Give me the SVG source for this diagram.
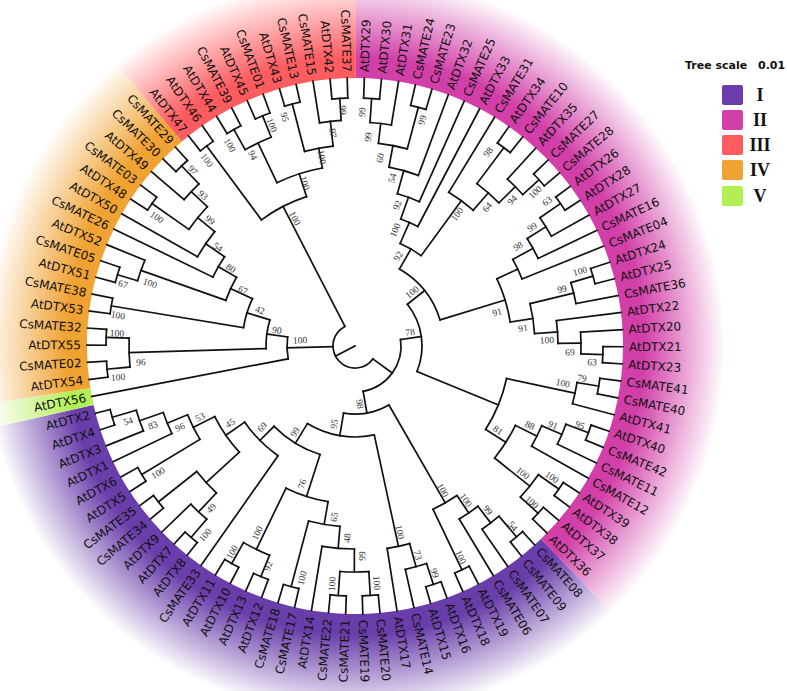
<svg xmlns="http://www.w3.org/2000/svg" width="787" height="691" viewBox="0 0 787 691">
<defs>
<radialGradient id="gI" gradientUnits="userSpaceOnUse" cx="0" cy="0" r="370"><stop offset="0" stop-color="#6a3eaa"/><stop offset="0.78" stop-color="#6a3eaa"/><stop offset="1" stop-color="#fff"/></radialGradient>
<radialGradient id="gII" gradientUnits="userSpaceOnUse" cx="0" cy="0" r="370"><stop offset="0" stop-color="#d23fa8"/><stop offset="0.78" stop-color="#d23fa8"/><stop offset="1" stop-color="#fff"/></radialGradient>
<radialGradient id="gIII" gradientUnits="userSpaceOnUse" cx="0" cy="0" r="370"><stop offset="0" stop-color="#ff5c60"/><stop offset="0.78" stop-color="#ff5c60"/><stop offset="1" stop-color="#fff"/></radialGradient>
<radialGradient id="gIV" gradientUnits="userSpaceOnUse" cx="0" cy="0" r="370"><stop offset="0" stop-color="#f0a232"/><stop offset="0.78" stop-color="#f0a232"/><stop offset="1" stop-color="#fff"/></radialGradient>
<radialGradient id="gV" gradientUnits="userSpaceOnUse" cx="0" cy="0" r="370"><stop offset="0" stop-color="#b2ef52"/><stop offset="0.78" stop-color="#b2ef52"/><stop offset="1" stop-color="#fff"/></radialGradient>
</defs>
<style>
.c{fill:none;stroke:#111;stroke-width:1.7;stroke-linecap:square}
.l{font-family:"DejaVu Sans",sans-serif;font-size:12px;fill:#111}
.r text{text-anchor:end}
.b{font-family:"Liberation Serif",serif;font-size:9.5px;fill:#333;text-anchor:middle}
.ts{font-family:"DejaVu Sans",sans-serif;font-size:11px;font-weight:bold;fill:#111}
.rn{font-family:"Liberation Serif",serif;font-size:18px;font-weight:bold;fill:#111;text-anchor:middle}
</style>
<rect width="787" height="691" fill="#fff"/>
<g transform="translate(355,346)">
<g id="bands" fill="none" stroke-width="102">
<circle r="319" pathLength="360" stroke="url(#gII)" stroke-dasharray="135.92 360" transform="rotate(270.16)"/>
<circle r="319" pathLength="360" stroke="url(#gI)" stroke-dasharray="121.23 360" transform="rotate(406.08)"/>
<circle r="319" pathLength="360" stroke="url(#gV)" stroke-dasharray="3.67 360" transform="rotate(527.31)"/>
<circle r="319" pathLength="360" stroke="url(#gIV)" stroke-dasharray="58.78 360" transform="rotate(530.98)"/>
<circle r="319" pathLength="360" stroke="url(#gIII)" stroke-dasharray="40.41 360" transform="rotate(589.76)"/>
</g>
<g id="connectors" class="c">
<line x1="0" x2="22" transform="rotate(512.34)"/>
<circle r="22" pathLength="360" stroke-dasharray="206.85 360" transform="rotate(395.88)"/>
<line x1="22" x2="46" transform="rotate(395.88)"/>
<circle r="46" pathLength="360" stroke-dasharray="87.98 360" transform="rotate(351.89)"/>
<line x1="22" x2="68" transform="rotate(538.42)"/>
<circle r="68" pathLength="360" stroke-dasharray="18.55 360" transform="rotate(529.15)"/>
<line x1="22" x2="157" transform="rotate(602.73)"/>
<circle r="157" pathLength="360" stroke-dasharray="18.60 360" transform="rotate(593.43)"/>
<line x1="46" x2="67" transform="rotate(351.89)"/>
<circle r="67" pathLength="360" stroke-dasharray="60.85 360" transform="rotate(321.47)"/>
<line x1="46" x2="68" transform="rotate(439.87)"/>
<circle r="68" pathLength="360" stroke-dasharray="39.56 360" transform="rotate(420.09)"/>
<line x1="67" x2="89" transform="rotate(321.47)"/>
<circle r="89" pathLength="360" stroke-dasharray="42.96 360" transform="rotate(299.98)"/>
<line x1="67" x2="155" transform="rotate(382.32)"/>
<circle r="155" pathLength="360" stroke-dasharray="20.43 360" transform="rotate(372.10)"/>
<line x1="89" x2="112" transform="rotate(299.98)"/>
<circle r="112" pathLength="360" stroke-dasharray="12.45 360" transform="rotate(293.76)"/>
<line x1="89" x2="157" transform="rotate(342.95)"/>
<circle r="157" pathLength="360" stroke-dasharray="16.53 360" transform="rotate(334.68)"/>
<line x1="112" x2="135" transform="rotate(293.76)"/>
<circle r="135" pathLength="360" stroke-dasharray="7.92 360" transform="rotate(289.79)"/>
<line x1="135" x2="268" transform="rotate(297.72)"/>
<line x1="135" x2="158" transform="rotate(289.79)"/>
<circle r="158" pathLength="360" stroke-dasharray="8.49 360" transform="rotate(285.55)"/>
<line x1="158" x2="268" transform="rotate(294.04)"/>
<line x1="158" x2="182" transform="rotate(285.55)"/>
<circle r="182" pathLength="360" stroke-dasharray="9.64 360" transform="rotate(280.73)"/>
<line x1="182" x2="268" transform="rotate(290.37)"/>
<line x1="182" x2="204" transform="rotate(280.73)"/>
<circle r="204" pathLength="360" stroke-dasharray="8.27 360" transform="rotate(276.59)"/>
<line x1="204" x2="224" transform="rotate(276.59)"/>
<circle r="224" pathLength="360" stroke-dasharray="5.51 360" transform="rotate(273.84)"/>
<line x1="224" x2="268" transform="rotate(279.35)"/>
<line x1="224" x2="248" transform="rotate(273.84)"/>
<circle r="248" pathLength="360" stroke-dasharray="3.67 360" transform="rotate(272)"/>
<line x1="248" x2="268" transform="rotate(272)"/>
<line x1="248" x2="268" transform="rotate(275.67)"/>
<line x1="204" x2="247" transform="rotate(284.86)"/>
<circle r="247" pathLength="360" stroke-dasharray="3.67 360" transform="rotate(283.02)"/>
<line x1="247" x2="268" transform="rotate(283.02)"/>
<line x1="247" x2="268" transform="rotate(286.69)"/>
<line x1="112" x2="180" transform="rotate(306.21)"/>
<circle r="180" pathLength="360" stroke-dasharray="9.64 360" transform="rotate(301.39)"/>
<line x1="180" x2="268" transform="rotate(301.39)"/>
<line x1="180" x2="203" transform="rotate(311.03)"/>
<circle r="203" pathLength="360" stroke-dasharray="8.27 360" transform="rotate(306.90)"/>
<line x1="203" x2="248" transform="rotate(306.90)"/>
<circle r="248" pathLength="360" stroke-dasharray="3.67 360" transform="rotate(305.06)"/>
<line x1="248" x2="268" transform="rotate(305.06)"/>
<line x1="248" x2="268" transform="rotate(308.74)"/>
<line x1="203" x2="226" transform="rotate(315.16)"/>
<circle r="226" pathLength="360" stroke-dasharray="5.51 360" transform="rotate(312.41)"/>
<line x1="226" x2="268" transform="rotate(312.41)"/>
<line x1="226" x2="248" transform="rotate(317.92)"/>
<circle r="248" pathLength="360" stroke-dasharray="3.67 360" transform="rotate(316.08)"/>
<line x1="248" x2="268" transform="rotate(316.08)"/>
<line x1="248" x2="268" transform="rotate(319.76)"/>
<line x1="157" x2="180" transform="rotate(334.68)"/>
<circle r="180" pathLength="360" stroke-dasharray="6.89 360" transform="rotate(331.24)"/>
<line x1="180" x2="268" transform="rotate(338.12)"/>
<line x1="180" x2="203" transform="rotate(331.24)"/>
<circle r="203" pathLength="360" stroke-dasharray="6.43 360" transform="rotate(328.02)"/>
<line x1="203" x2="268" transform="rotate(334.45)"/>
<line x1="203" x2="225" transform="rotate(328.02)"/>
<circle r="225" pathLength="360" stroke-dasharray="5.51 360" transform="rotate(325.27)"/>
<line x1="225" x2="268" transform="rotate(330.78)"/>
<line x1="225" x2="250" transform="rotate(325.27)"/>
<circle r="250" pathLength="360" stroke-dasharray="3.67 360" transform="rotate(323.43)"/>
<line x1="250" x2="268" transform="rotate(323.43)"/>
<line x1="250" x2="268" transform="rotate(327.10)"/>
<line x1="157" x2="180" transform="rotate(351.21)"/>
<circle r="180" pathLength="360" stroke-dasharray="9.64 360" transform="rotate(346.39)"/>
<line x1="180" x2="225" transform="rotate(346.39)"/>
<circle r="225" pathLength="360" stroke-dasharray="5.51 360" transform="rotate(343.63)"/>
<line x1="225" x2="268" transform="rotate(349.14)"/>
<line x1="225" x2="248" transform="rotate(343.63)"/>
<circle r="248" pathLength="360" stroke-dasharray="3.67 360" transform="rotate(341.80)"/>
<line x1="248" x2="268" transform="rotate(341.80)"/>
<line x1="248" x2="268" transform="rotate(345.47)"/>
<line x1="180" x2="203" transform="rotate(356.03)"/>
<circle r="203" pathLength="360" stroke-dasharray="6.43 360" transform="rotate(352.82)"/>
<line x1="203" x2="268" transform="rotate(352.82)"/>
<line x1="203" x2="226" transform="rotate(359.25)"/>
<circle r="226" pathLength="360" stroke-dasharray="5.51 360" transform="rotate(356.49)"/>
<line x1="226" x2="268" transform="rotate(356.49)"/>
<line x1="226" x2="248" transform="rotate(362.00)"/>
<circle r="248" pathLength="360" stroke-dasharray="3.67 360" transform="rotate(360.16)"/>
<line x1="248" x2="268" transform="rotate(360.16)"/>
<line x1="248" x2="268" transform="rotate(363.84)"/>
<line x1="155" x2="225" transform="rotate(372.10)"/>
<circle r="225" pathLength="360" stroke-dasharray="5.51 360" transform="rotate(369.35)"/>
<line x1="225" x2="268" transform="rotate(374.86)"/>
<line x1="225" x2="247" transform="rotate(369.35)"/>
<circle r="247" pathLength="360" stroke-dasharray="3.67 360" transform="rotate(367.51)"/>
<line x1="247" x2="268" transform="rotate(367.51)"/>
<line x1="247" x2="268" transform="rotate(371.19)"/>
<line x1="155" x2="179" transform="rotate(392.54)"/>
<circle r="179" pathLength="360" stroke-dasharray="12.40 360" transform="rotate(386.34)"/>
<line x1="179" x2="203" transform="rotate(386.34)"/>
<circle r="203" pathLength="360" stroke-dasharray="6.43 360" transform="rotate(383.12)"/>
<line x1="203" x2="268" transform="rotate(389.55)"/>
<line x1="203" x2="225" transform="rotate(383.12)"/>
<circle r="225" pathLength="360" stroke-dasharray="5.51 360" transform="rotate(380.37)"/>
<line x1="225" x2="268" transform="rotate(385.88)"/>
<line x1="225" x2="249" transform="rotate(380.37)"/>
<circle r="249" pathLength="360" stroke-dasharray="3.67 360" transform="rotate(378.53)"/>
<line x1="249" x2="268" transform="rotate(378.53)"/>
<line x1="249" x2="268" transform="rotate(382.21)"/>
<line x1="179" x2="224" transform="rotate(398.74)"/>
<circle r="224" pathLength="360" stroke-dasharray="7.35 360" transform="rotate(395.06)"/>
<line x1="224" x2="249" transform="rotate(395.06)"/>
<circle r="249" pathLength="360" stroke-dasharray="3.67 360" transform="rotate(393.23)"/>
<line x1="249" x2="268" transform="rotate(393.23)"/>
<line x1="249" x2="268" transform="rotate(396.90)"/>
<line x1="224" x2="248" transform="rotate(402.41)"/>
<circle r="248" pathLength="360" stroke-dasharray="3.67 360" transform="rotate(400.57)"/>
<line x1="248" x2="268" transform="rotate(400.57)"/>
<line x1="248" x2="268" transform="rotate(404.25)"/>
<line x1="68" x2="181" transform="rotate(420.09)"/>
<circle r="181" pathLength="360" stroke-dasharray="8.72 360" transform="rotate(415.73)"/>
<line x1="181" x2="202" transform="rotate(415.73)"/>
<circle r="202" pathLength="360" stroke-dasharray="6.43 360" transform="rotate(412.51)"/>
<line x1="202" x2="268" transform="rotate(418.94)"/>
<line x1="202" x2="223" transform="rotate(412.51)"/>
<circle r="223" pathLength="360" stroke-dasharray="5.51 360" transform="rotate(409.76)"/>
<line x1="223" x2="268" transform="rotate(415.27)"/>
<line x1="223" x2="250" transform="rotate(409.76)"/>
<circle r="250" pathLength="360" stroke-dasharray="3.67 360" transform="rotate(407.92)"/>
<line x1="250" x2="268" transform="rotate(407.92)"/>
<line x1="250" x2="268" transform="rotate(411.59)"/>
<line x1="181" x2="248" transform="rotate(424.45)"/>
<circle r="248" pathLength="360" stroke-dasharray="3.67 360" transform="rotate(422.61)"/>
<line x1="248" x2="268" transform="rotate(422.61)"/>
<line x1="248" x2="268" transform="rotate(426.29)"/>
<line x1="68" x2="91" transform="rotate(459.65)"/>
<circle r="91" pathLength="360" stroke-dasharray="43.77 360" transform="rotate(437.77)"/>
<line x1="91" x2="205" transform="rotate(437.77)"/>
<circle r="205" pathLength="360" stroke-dasharray="6.43 360" transform="rotate(434.55)"/>
<line x1="205" x2="268" transform="rotate(440.98)"/>
<line x1="205" x2="229" transform="rotate(434.55)"/>
<circle r="229" pathLength="360" stroke-dasharray="5.51 360" transform="rotate(431.80)"/>
<line x1="229" x2="268" transform="rotate(437.31)"/>
<line x1="229" x2="251" transform="rotate(431.80)"/>
<circle r="251" pathLength="360" stroke-dasharray="3.67 360" transform="rotate(429.96)"/>
<line x1="251" x2="268" transform="rotate(429.96)"/>
<line x1="251" x2="268" transform="rotate(433.63)"/>
<line x1="91" x2="114" transform="rotate(481.53)"/>
<circle r="114" pathLength="360" stroke-dasharray="27.38 360" transform="rotate(467.85)"/>
<line x1="114" x2="158" transform="rotate(467.85)"/>
<circle r="158" pathLength="360" stroke-dasharray="16.07 360" transform="rotate(459.81)"/>
<line x1="158" x2="181" transform="rotate(459.81)"/>
<circle r="181" pathLength="360" stroke-dasharray="10.10 360" transform="rotate(454.76)"/>
<line x1="181" x2="203" transform="rotate(454.76)"/>
<circle r="203" pathLength="360" stroke-dasharray="9.18 360" transform="rotate(450.17)"/>
<line x1="203" x2="268" transform="rotate(459.35)"/>
<line x1="203" x2="226" transform="rotate(450.17)"/>
<circle r="226" pathLength="360" stroke-dasharray="7.35 360" transform="rotate(446.49)"/>
<line x1="226" x2="250" transform="rotate(446.49)"/>
<circle r="250" pathLength="360" stroke-dasharray="3.67 360" transform="rotate(444.66)"/>
<line x1="250" x2="268" transform="rotate(444.66)"/>
<line x1="250" x2="268" transform="rotate(448.33)"/>
<line x1="226" x2="250" transform="rotate(453.84)"/>
<circle r="250" pathLength="360" stroke-dasharray="3.67 360" transform="rotate(452.00)"/>
<line x1="250" x2="268" transform="rotate(452.00)"/>
<line x1="250" x2="268" transform="rotate(455.68)"/>
<line x1="181" x2="249" transform="rotate(464.86)"/>
<circle r="249" pathLength="360" stroke-dasharray="3.67 360" transform="rotate(463.02)"/>
<line x1="249" x2="268" transform="rotate(463.02)"/>
<line x1="249" x2="268" transform="rotate(466.70)"/>
<line x1="158" x2="226" transform="rotate(475.88)"/>
<circle r="226" pathLength="360" stroke-dasharray="7.35 360" transform="rotate(472.21)"/>
<line x1="226" x2="249" transform="rotate(472.21)"/>
<circle r="249" pathLength="360" stroke-dasharray="3.67 360" transform="rotate(470.37)"/>
<line x1="249" x2="268" transform="rotate(470.37)"/>
<line x1="249" x2="268" transform="rotate(474.04)"/>
<line x1="226" x2="250" transform="rotate(479.55)"/>
<circle r="250" pathLength="360" stroke-dasharray="3.67 360" transform="rotate(477.72)"/>
<line x1="250" x2="268" transform="rotate(477.72)"/>
<line x1="250" x2="268" transform="rotate(481.39)"/>
<line x1="114" x2="134" transform="rotate(495.22)"/>
<circle r="134" pathLength="360" stroke-dasharray="20.32 360" transform="rotate(485.06)"/>
<line x1="134" x2="268" transform="rotate(485.06)"/>
<line x1="134" x2="157" transform="rotate(505.38)"/>
<circle r="157" pathLength="360" stroke-dasharray="15.84 360" transform="rotate(497.46)"/>
<line x1="157" x2="202" transform="rotate(497.46)"/>
<circle r="202" pathLength="360" stroke-dasharray="8.27 360" transform="rotate(493.33)"/>
<line x1="202" x2="228" transform="rotate(493.33)"/>
<circle r="228" pathLength="360" stroke-dasharray="5.51 360" transform="rotate(490.57)"/>
<line x1="228" x2="268" transform="rotate(496.08)"/>
<line x1="228" x2="252" transform="rotate(490.57)"/>
<circle r="252" pathLength="360" stroke-dasharray="3.67 360" transform="rotate(488.74)"/>
<line x1="252" x2="268" transform="rotate(488.74)"/>
<line x1="252" x2="268" transform="rotate(492.41)"/>
<line x1="202" x2="251" transform="rotate(501.59)"/>
<circle r="251" pathLength="360" stroke-dasharray="3.67 360" transform="rotate(499.76)"/>
<line x1="251" x2="268" transform="rotate(499.76)"/>
<line x1="251" x2="268" transform="rotate(503.43)"/>
<line x1="157" x2="181" transform="rotate(513.30)"/>
<circle r="181" pathLength="360" stroke-dasharray="8.73 360" transform="rotate(508.94)"/>
<line x1="181" x2="249" transform="rotate(508.94)"/>
<circle r="249" pathLength="360" stroke-dasharray="3.67 360" transform="rotate(507.10)"/>
<line x1="249" x2="268" transform="rotate(507.10)"/>
<line x1="249" x2="268" transform="rotate(510.78)"/>
<line x1="181" x2="203" transform="rotate(517.67)"/>
<circle r="203" pathLength="360" stroke-dasharray="6.43 360" transform="rotate(514.45)"/>
<line x1="203" x2="268" transform="rotate(514.45)"/>
<line x1="203" x2="228" transform="rotate(520.88)"/>
<circle r="228" pathLength="360" stroke-dasharray="5.51 360" transform="rotate(518.13)"/>
<line x1="228" x2="268" transform="rotate(518.13)"/>
<line x1="228" x2="253" transform="rotate(523.64)"/>
<circle r="253" pathLength="360" stroke-dasharray="3.67 360" transform="rotate(521.80)"/>
<line x1="253" x2="268" transform="rotate(521.80)"/>
<line x1="253" x2="268" transform="rotate(525.47)"/>
<line x1="68" x2="268" transform="rotate(529.15)"/>
<line x1="68" x2="89" transform="rotate(547.70)"/>
<circle r="89" pathLength="360" stroke-dasharray="18.74 360" transform="rotate(538.33)"/>
<line x1="89" x2="226" transform="rotate(538.33)"/>
<circle r="226" pathLength="360" stroke-dasharray="7.35 360" transform="rotate(534.66)"/>
<line x1="226" x2="249" transform="rotate(534.66)"/>
<circle r="249" pathLength="360" stroke-dasharray="3.67 360" transform="rotate(532.82)"/>
<line x1="249" x2="268" transform="rotate(532.82)"/>
<line x1="249" x2="268" transform="rotate(536.49)"/>
<line x1="226" x2="249" transform="rotate(542.00)"/>
<circle r="249" pathLength="360" stroke-dasharray="3.67 360" transform="rotate(540.17)"/>
<line x1="249" x2="268" transform="rotate(540.17)"/>
<line x1="249" x2="268" transform="rotate(543.84)"/>
<line x1="89" x2="113" transform="rotate(557.07)"/>
<circle r="113" pathLength="360" stroke-dasharray="15.44 360" transform="rotate(549.35)"/>
<line x1="113" x2="247" transform="rotate(549.35)"/>
<circle r="247" pathLength="360" stroke-dasharray="3.67 360" transform="rotate(547.51)"/>
<line x1="247" x2="268" transform="rotate(547.51)"/>
<line x1="247" x2="268" transform="rotate(551.19)"/>
<line x1="113" x2="137" transform="rotate(564.79)"/>
<circle r="137" pathLength="360" stroke-dasharray="10.68 360" transform="rotate(559.45)"/>
<line x1="137" x2="227" transform="rotate(559.45)"/>
<circle r="227" pathLength="360" stroke-dasharray="5.51 360" transform="rotate(556.70)"/>
<line x1="227" x2="268" transform="rotate(562.21)"/>
<line x1="227" x2="248" transform="rotate(556.70)"/>
<circle r="248" pathLength="360" stroke-dasharray="3.67 360" transform="rotate(554.86)"/>
<line x1="248" x2="268" transform="rotate(554.86)"/>
<line x1="248" x2="268" transform="rotate(558.53)"/>
<line x1="137" x2="158" transform="rotate(570.13)"/>
<circle r="158" pathLength="360" stroke-dasharray="8.50 360" transform="rotate(565.88)"/>
<line x1="158" x2="268" transform="rotate(565.88)"/>
<line x1="158" x2="181" transform="rotate(574.38)"/>
<circle r="181" pathLength="360" stroke-dasharray="9.64 360" transform="rotate(569.55)"/>
<line x1="181" x2="268" transform="rotate(569.55)"/>
<line x1="181" x2="203" transform="rotate(579.20)"/>
<circle r="203" pathLength="360" stroke-dasharray="8.27 360" transform="rotate(575.06)"/>
<line x1="203" x2="248" transform="rotate(575.06)"/>
<circle r="248" pathLength="360" stroke-dasharray="3.67 360" transform="rotate(573.23)"/>
<line x1="248" x2="268" transform="rotate(573.23)"/>
<line x1="248" x2="268" transform="rotate(576.90)"/>
<line x1="203" x2="225" transform="rotate(583.33)"/>
<circle r="225" pathLength="360" stroke-dasharray="5.51 360" transform="rotate(580.57)"/>
<line x1="225" x2="268" transform="rotate(580.57)"/>
<line x1="225" x2="250" transform="rotate(586.09)"/>
<circle r="250" pathLength="360" stroke-dasharray="3.67 360" transform="rotate(584.25)"/>
<line x1="250" x2="268" transform="rotate(584.25)"/>
<line x1="250" x2="268" transform="rotate(587.92)"/>
<line x1="157" x2="249" transform="rotate(593.43)"/>
<circle r="249" pathLength="360" stroke-dasharray="3.67 360" transform="rotate(591.60)"/>
<line x1="249" x2="268" transform="rotate(591.60)"/>
<line x1="249" x2="268" transform="rotate(595.27)"/>
<line x1="157" x2="181" transform="rotate(612.03)"/>
<circle r="181" pathLength="360" stroke-dasharray="15.15 360" transform="rotate(604.45)"/>
<line x1="181" x2="225" transform="rotate(604.45)"/>
<circle r="225" pathLength="360" stroke-dasharray="7.35 360" transform="rotate(600.78)"/>
<line x1="225" x2="248" transform="rotate(600.78)"/>
<circle r="248" pathLength="360" stroke-dasharray="3.67 360" transform="rotate(598.94)"/>
<line x1="248" x2="268" transform="rotate(598.94)"/>
<line x1="248" x2="268" transform="rotate(602.62)"/>
<line x1="225" x2="248" transform="rotate(608.13)"/>
<circle r="248" pathLength="360" stroke-dasharray="3.67 360" transform="rotate(606.29)"/>
<line x1="248" x2="268" transform="rotate(606.29)"/>
<line x1="248" x2="268" transform="rotate(609.96)"/>
<line x1="181" x2="201" transform="rotate(619.61)"/>
<circle r="201" pathLength="360" stroke-dasharray="8.27 360" transform="rotate(615.47)"/>
<line x1="201" x2="250" transform="rotate(615.47)"/>
<circle r="250" pathLength="360" stroke-dasharray="3.67 360" transform="rotate(613.64)"/>
<line x1="250" x2="268" transform="rotate(613.64)"/>
<line x1="250" x2="268" transform="rotate(617.31)"/>
<line x1="201" x2="226" transform="rotate(623.74)"/>
<circle r="226" pathLength="360" stroke-dasharray="5.51 360" transform="rotate(620.98)"/>
<line x1="226" x2="268" transform="rotate(620.98)"/>
<line x1="226" x2="248" transform="rotate(626.49)"/>
<circle r="248" pathLength="360" stroke-dasharray="3.67 360" transform="rotate(624.66)"/>
<line x1="248" x2="268" transform="rotate(624.66)"/>
<line x1="248" x2="268" transform="rotate(628.33)"/>
</g>
<g id="leaves" class="l">
<g id="n-AtDTX29"><text transform="rotate(272)" x="274" dy=".35em">AtDTX29</text></g>
<g id="n-AtDTX30"><text transform="rotate(275.67)" x="274" dy=".35em">AtDTX30</text></g>
<g id="n-AtDTX31"><text transform="rotate(279.35)" x="274" dy=".35em">AtDTX31</text></g>
<g id="n-CsMATE24"><text transform="rotate(283.02)" x="274" dy=".35em">CsMATE24</text></g>
<g id="n-CsMATE23"><text transform="rotate(286.69)" x="274" dy=".35em">CsMATE23</text></g>
<g id="n-AtDTX32"><text transform="rotate(290.37)" x="274" dy=".35em">AtDTX32</text></g>
<g id="n-CsMATE25"><text transform="rotate(294.04)" x="274" dy=".35em">CsMATE25</text></g>
<g id="n-AtDTX33"><text transform="rotate(297.72)" x="274" dy=".35em">AtDTX33</text></g>
<g id="n-CsMATE31"><text transform="rotate(301.39)" x="274" dy=".35em">CsMATE31</text></g>
<g id="n-AtDTX34"><text transform="rotate(305.06)" x="274" dy=".35em">AtDTX34</text></g>
<g id="n-CsMATE10"><text transform="rotate(308.74)" x="274" dy=".35em">CsMATE10</text></g>
<g id="n-AtDTX35"><text transform="rotate(312.41)" x="274" dy=".35em">AtDTX35</text></g>
<g id="n-CsMATE27"><text transform="rotate(316.08)" x="274" dy=".35em">CsMATE27</text></g>
<g id="n-CsMATE28"><text transform="rotate(319.76)" x="274" dy=".35em">CsMATE28</text></g>
<g id="n-AtDTX26"><text transform="rotate(323.43)" x="274" dy=".35em">AtDTX26</text></g>
<g id="n-AtDTX28"><text transform="rotate(327.10)" x="274" dy=".35em">AtDTX28</text></g>
<g id="n-AtDTX27"><text transform="rotate(330.78)" x="274" dy=".35em">AtDTX27</text></g>
<g id="n-CsMATE16"><text transform="rotate(334.45)" x="274" dy=".35em">CsMATE16</text></g>
<g id="n-CsMATE04"><text transform="rotate(338.12)" x="274" dy=".35em">CsMATE04</text></g>
<g id="n-AtDTX24"><text transform="rotate(341.80)" x="274" dy=".35em">AtDTX24</text></g>
<g id="n-AtDTX25"><text transform="rotate(345.47)" x="274" dy=".35em">AtDTX25</text></g>
<g id="n-CsMATE36"><text transform="rotate(349.14)" x="274" dy=".35em">CsMATE36</text></g>
<g id="n-AtDTX22"><text transform="rotate(352.82)" x="274" dy=".35em">AtDTX22</text></g>
<g id="n-AtDTX20"><text transform="rotate(356.49)" x="274" dy=".35em">AtDTX20</text></g>
<g id="n-AtDTX21"><text transform="rotate(360.16)" x="274" dy=".35em">AtDTX21</text></g>
<g id="n-AtDTX23"><text transform="rotate(363.84)" x="274" dy=".35em">AtDTX23</text></g>
<g id="n-CsMATE41"><text transform="rotate(367.51)" x="274" dy=".35em">CsMATE41</text></g>
<g id="n-CsMATE40"><text transform="rotate(371.19)" x="274" dy=".35em">CsMATE40</text></g>
<g id="n-AtDTX41"><text transform="rotate(374.86)" x="274" dy=".35em">AtDTX41</text></g>
<g id="n-AtDTX40"><text transform="rotate(378.53)" x="274" dy=".35em">AtDTX40</text></g>
<g id="n-CsMATE42"><text transform="rotate(382.21)" x="274" dy=".35em">CsMATE42</text></g>
<g id="n-CsMATE11"><text transform="rotate(385.88)" x="274" dy=".35em">CsMATE11</text></g>
<g id="n-CsMATE12"><text transform="rotate(389.55)" x="274" dy=".35em">CsMATE12</text></g>
<g id="n-AtDTX39"><text transform="rotate(393.23)" x="274" dy=".35em">AtDTX39</text></g>
<g id="n-AtDTX38"><text transform="rotate(396.90)" x="274" dy=".35em">AtDTX38</text></g>
<g id="n-AtDTX37"><text transform="rotate(400.57)" x="274" dy=".35em">AtDTX37</text></g>
<g id="n-AtDTX36"><text transform="rotate(404.25)" x="274" dy=".35em">AtDTX36</text></g>
<g id="n-CsMATE08"><text transform="rotate(407.92)" x="274" dy=".35em">CsMATE08</text></g>
<g id="n-CsMATE09"><text transform="rotate(411.59)" x="274" dy=".35em">CsMATE09</text></g>
<g id="n-CsMATE07"><text transform="rotate(415.27)" x="274" dy=".35em">CsMATE07</text></g>
<g id="n-CsMATE06"><text transform="rotate(418.94)" x="274" dy=".35em">CsMATE06</text></g>
<g id="n-AtDTX19"><text transform="rotate(422.61)" x="274" dy=".35em">AtDTX19</text></g>
<g id="n-AtDTX18"><text transform="rotate(426.29)" x="274" dy=".35em">AtDTX18</text></g>
<g id="n-AtDTX16"><text transform="rotate(429.96)" x="274" dy=".35em">AtDTX16</text></g>
<g id="n-AtDTX15"><text transform="rotate(433.63)" x="274" dy=".35em">AtDTX15</text></g>
<g id="n-CsMATE14"><text transform="rotate(437.31)" x="274" dy=".35em">CsMATE14</text></g>
<g id="n-AtDTX17"><text transform="rotate(440.98)" x="274" dy=".35em">AtDTX17</text></g>
<g id="n-CsMATE20"><text transform="rotate(444.66)" x="274" dy=".35em">CsMATE20</text></g>
<g id="n-CsMATE19"><text transform="rotate(448.33)" x="274" dy=".35em">CsMATE19</text></g>
<g class="r">
<g id="n-CsMATE21"><text transform="rotate(272)" x="-274" dy=".35em">CsMATE21</text></g>
<g id="n-CsMATE22"><text transform="rotate(275.68)" x="-274" dy=".35em">CsMATE22</text></g>
<g id="n-AtDTX14"><text transform="rotate(279.35)" x="-274" dy=".35em">AtDTX14</text></g>
<g id="n-CsMATE17"><text transform="rotate(283.02)" x="-274" dy=".35em">CsMATE17</text></g>
<g id="n-CsMATE18"><text transform="rotate(286.70)" x="-274" dy=".35em">CsMATE18</text></g>
<g id="n-AtDTX12"><text transform="rotate(290.37)" x="-274" dy=".35em">AtDTX12</text></g>
<g id="n-AtDTX13"><text transform="rotate(294.04)" x="-274" dy=".35em">AtDTX13</text></g>
<g id="n-AtDTX10"><text transform="rotate(297.72)" x="-274" dy=".35em">AtDTX10</text></g>
<g id="n-AtDTX11"><text transform="rotate(301.39)" x="-274" dy=".35em">AtDTX11</text></g>
<g id="n-CsMATE33"><text transform="rotate(305.06)" x="-274" dy=".35em">CsMATE33</text></g>
<g id="n-AtDTX8"><text transform="rotate(308.74)" x="-274" dy=".35em">AtDTX8</text></g>
<g id="n-AtDTX7"><text transform="rotate(312.41)" x="-274" dy=".35em">AtDTX7</text></g>
<g id="n-AtDTX9"><text transform="rotate(316.08)" x="-274" dy=".35em">AtDTX9</text></g>
<g id="n-CsMATE34"><text transform="rotate(319.76)" x="-274" dy=".35em">CsMATE34</text></g>
<g id="n-CsMATE35"><text transform="rotate(323.43)" x="-274" dy=".35em">CsMATE35</text></g>
<g id="n-AtDTX5"><text transform="rotate(327.10)" x="-274" dy=".35em">AtDTX5</text></g>
<g id="n-AtDTX6"><text transform="rotate(330.78)" x="-274" dy=".35em">AtDTX6</text></g>
<g id="n-AtDTX1"><text transform="rotate(334.45)" x="-274" dy=".35em">AtDTX1</text></g>
<g id="n-AtDTX3"><text transform="rotate(338.13)" x="-274" dy=".35em">AtDTX3</text></g>
<g id="n-AtDTX4"><text transform="rotate(341.80)" x="-274" dy=".35em">AtDTX4</text></g>
<g id="n-AtDTX2"><text transform="rotate(345.47)" x="-274" dy=".35em">AtDTX2</text></g>
<g id="n-AtDTX56"><text transform="rotate(349.15)" x="-274" dy=".35em">AtDTX56</text></g>
<g id="n-AtDTX54"><text transform="rotate(352.82)" x="-274" dy=".35em">AtDTX54</text></g>
<g id="n-CsMATE02"><text transform="rotate(356.49)" x="-274" dy=".35em">CsMATE02</text></g>
<g id="n-AtDTX55"><text transform="rotate(360.17)" x="-274" dy=".35em">AtDTX55</text></g>
<g id="n-CsMATE32"><text transform="rotate(363.84)" x="-274" dy=".35em">CsMATE32</text></g>
<g id="n-AtDTX53"><text transform="rotate(367.51)" x="-274" dy=".35em">AtDTX53</text></g>
<g id="n-CsMATE38"><text transform="rotate(371.19)" x="-274" dy=".35em">CsMATE38</text></g>
<g id="n-AtDTX51"><text transform="rotate(374.86)" x="-274" dy=".35em">AtDTX51</text></g>
<g id="n-CsMATE05"><text transform="rotate(378.53)" x="-274" dy=".35em">CsMATE05</text></g>
<g id="n-AtDTX52"><text transform="rotate(382.21)" x="-274" dy=".35em">AtDTX52</text></g>
<g id="n-CsMATE26"><text transform="rotate(385.88)" x="-274" dy=".35em">CsMATE26</text></g>
<g id="n-AtDTX50"><text transform="rotate(389.55)" x="-274" dy=".35em">AtDTX50</text></g>
<g id="n-AtDTX48"><text transform="rotate(393.23)" x="-274" dy=".35em">AtDTX48</text></g>
<g id="n-CsMATE03"><text transform="rotate(396.90)" x="-274" dy=".35em">CsMATE03</text></g>
<g id="n-AtDTX49"><text transform="rotate(400.57)" x="-274" dy=".35em">AtDTX49</text></g>
<g id="n-CsMATE30"><text transform="rotate(404.25)" x="-274" dy=".35em">CsMATE30</text></g>
<g id="n-CsMATE29"><text transform="rotate(407.92)" x="-274" dy=".35em">CsMATE29</text></g>
<g id="n-AtDTX47"><text transform="rotate(411.60)" x="-274" dy=".35em">AtDTX47</text></g>
<g id="n-AtDTX46"><text transform="rotate(415.27)" x="-274" dy=".35em">AtDTX46</text></g>
<g id="n-AtDTX44"><text transform="rotate(418.94)" x="-274" dy=".35em">AtDTX44</text></g>
<g id="n-CsMATE39"><text transform="rotate(422.62)" x="-274" dy=".35em">CsMATE39</text></g>
<g id="n-AtDTX45"><text transform="rotate(426.29)" x="-274" dy=".35em">AtDTX45</text></g>
<g id="n-CsMATE01"><text transform="rotate(429.96)" x="-274" dy=".35em">CsMATE01</text></g>
<g id="n-AtDTX43"><text transform="rotate(433.64)" x="-274" dy=".35em">AtDTX43</text></g>
<g id="n-CsMATE13"><text transform="rotate(437.31)" x="-274" dy=".35em">CsMATE13</text></g>
<g id="n-CsMATE15"><text transform="rotate(440.98)" x="-274" dy=".35em">CsMATE15</text></g>
<g id="n-AtDTX42"><text transform="rotate(444.66)" x="-274" dy=".35em">AtDTX42</text></g>
<g id="n-CsMATE37"><text transform="rotate(448.33)" x="-274" dy=".35em">CsMATE37</text></g>
</g>
</g>
</g>
<g id="bootstrap" class="b">
<text transform="translate(362,112) rotate(-86.2)" dy=".35em">99</text>
<text transform="translate(368,137) rotate(-83.4)" dy=".35em">99</text>
<text transform="translate(422,120) rotate(-75.1)" dy=".35em">99</text>
<text transform="translate(380,158) rotate(-79.3)" dy=".35em">60</text>
<text transform="translate(392,178) rotate(-74.5)" dy=".35em">54</text>
<text transform="translate(397,205) rotate(-70.2)" dy=".35em">92</text>
<text transform="translate(395,230) rotate(-66.2)" dy=".35em">100</text>
<text transform="translate(398,256) rotate(-60)" dy=".35em">92</text>
<text transform="translate(488,152) rotate(-53.1)" dy=".35em">98</text>
<text transform="translate(487,207) rotate(-49)" dy=".35em">64</text>
<text transform="translate(512,200) rotate(-44.8)" dy=".35em">94</text>
<text transform="translate(535,192) rotate(-42.1)" dy=".35em">100</text>
<text transform="translate(457,214) rotate(-53.8)" dy=".35em">100</text>
<text transform="translate(412,292) rotate(-38.5)" dy=".35em">100</text>
<text transform="translate(547,201) rotate(-34.7)" dy=".35em">63</text>
<text transform="translate(532,227) rotate(-32)" dy=".35em">99</text>
<text transform="translate(518,246) rotate(-28.8)" dy=".35em">98</text>
<text transform="translate(580,271) rotate(-16.4)" dy=".35em">100</text>
<text transform="translate(562,289) rotate(-13.6)" dy=".35em">99</text>
<text transform="translate(523,328) rotate(-8.8)" dy=".35em">91</text>
<text transform="translate(497,312) rotate(-17.1)" dy=".35em">91</text>
<text transform="translate(547,340) rotate(-4)" dy=".35em">100</text>
<text transform="translate(570,352) rotate(-0.8)" dy=".35em">69</text>
<text transform="translate(592,362) rotate(2)" dy=".35em">63</text>
<text transform="translate(410,332) rotate(-8.1)" dy=".35em">78</text>
<text transform="translate(582,378) rotate(9.3)" dy=".35em">79</text>
<text transform="translate(563,383) rotate(12.1)" dy=".35em">100</text>
<text transform="translate(580,425) rotate(20.4)" dy=".35em">95</text>
<text transform="translate(553,425) rotate(23.1)" dy=".35em">91</text>
<text transform="translate(530,425) rotate(26.3)" dy=".35em">88</text>
<text transform="translate(498,430) rotate(32.5)" dy=".35em">81</text>
<text transform="translate(552,477) rotate(35.1)" dy=".35em">100</text>
<text transform="translate(523,473) rotate(38.7)" dy=".35em">100</text>
<text transform="translate(532,502) rotate(42.4)" dy=".35em">100</text>
<text transform="translate(513,526) rotate(49.8)" dy=".35em">54</text>
<text transform="translate(488,510) rotate(52.5)" dy=".35em">99</text>
<text transform="translate(466,500) rotate(55.7)" dy=".35em">100</text>
<text transform="translate(461,557) rotate(64.5)" dy=".35em">100</text>
<text transform="translate(443,490) rotate(60.1)" dy=".35em">100</text>
<text transform="translate(435,573) rotate(71.8)" dy=".35em">99</text>
<text transform="translate(418,555) rotate(74.6)" dy=".35em">73</text>
<text transform="translate(400,532) rotate(77.8)" dy=".35em">100</text>
<text transform="translate(377,583) rotate(86.5)" dy=".35em">100</text>
<text transform="translate(332,584) rotate(-86.2)" dy=".35em">100</text>
<text transform="translate(362,556) rotate(-89.8)" dy=".35em">99</text>
<text transform="translate(347,538) rotate(-85.2)" dy=".35em">48</text>
<text transform="translate(302,578) rotate(-75.1)" dy=".35em">100</text>
<text transform="translate(334,517) rotate(-80.2)" dy=".35em">65</text>
<text transform="translate(268,566) rotate(-67.8)" dy=".35em">92</text>
<text transform="translate(232,552) rotate(-60.4)" dy=".35em">100</text>
<text transform="translate(257,533) rotate(-64.1)" dy=".35em">100</text>
<text transform="translate(302,484) rotate(-72.2)" dy=".35em">76</text>
<text transform="translate(205,535) rotate(-49.4)" dy=".35em">100</text>
<text transform="translate(211,508) rotate(-46.7)" dy=".35em">49</text>
<text transform="translate(158,473) rotate(-31.1)" dy=".35em">100</text>
<text transform="translate(128,421) rotate(-16.4)" dy=".35em">54</text>
<text transform="translate(153,425) rotate(-19.1)" dy=".35em">83</text>
<text transform="translate(180,427) rotate(-22.3)" dy=".35em">96</text>
<text transform="translate(200,417) rotate(-26.7)" dy=".35em">53</text>
<text transform="translate(230,423) rotate(-34.6)" dy=".35em">45</text>
<text transform="translate(262,427) rotate(-44.8)" dy=".35em">69</text>
<text transform="translate(295,432) rotate(-58.5)" dy=".35em">99</text>
<text transform="translate(334,424) rotate(-80.3)" dy=".35em">95</text>
<text transform="translate(360,404) rotate(79.9)" dy=".35em">98</text>
<text transform="translate(118,377) rotate(-5.3)" dy=".35em">100</text>
<text transform="translate(117,333) rotate(2)" dy=".35em">100</text>
<text transform="translate(141,362) rotate(-1.7)" dy=".35em">96</text>
<text transform="translate(118,315) rotate(9.4)" dy=".35em">100</text>
<text transform="translate(123,284) rotate(16.7)" dy=".35em">67</text>
<text transform="translate(150,283) rotate(19.5)" dy=".35em">100</text>
<text transform="translate(260,310) rotate(17.1)" dy=".35em">42</text>
<text transform="translate(243,290) rotate(24.8)" dy=".35em">67</text>
<text transform="translate(231,268) rotate(30.1)" dy=".35em">80</text>
<text transform="translate(218,247) rotate(34.4)" dy=".35em">54</text>
<text transform="translate(210,220) rotate(39.2)" dy=".35em">99</text>
<text transform="translate(203,195) rotate(43.3)" dy=".35em">93</text>
<text transform="translate(193,170) rotate(46.1)" dy=".35em">97</text>
<text transform="translate(157,217) rotate(35.1)" dy=".35em">100</text>
<text transform="translate(277,330) rotate(7.7)" dy=".35em">90</text>
<text transform="translate(300,340) rotate(-1.6)" dy=".35em">100</text>
<text transform="translate(207,160) rotate(53.4)" dy=".35em">100</text>
<text transform="translate(230,145) rotate(60.8)" dy=".35em">100</text>
<text transform="translate(272,125) rotate(68.1)" dy=".35em">100</text>
<text transform="translate(253,155) rotate(64.5)" dy=".35em">94</text>
<text transform="translate(285,117) rotate(75.5)" dy=".35em">95</text>
<text transform="translate(343,110) rotate(86.5)" dy=".35em">99</text>
<text transform="translate(333,133) rotate(83.7)" dy=".35em">97</text>
<text transform="translate(322,157) rotate(79.6)" dy=".35em">100</text>
<text transform="translate(305,183) rotate(72)" dy=".35em">100</text>
<text transform="translate(295,218) rotate(62.7)" dy=".35em">100</text>
</g>
<g id="legend">
<text class="ts" x="685" y="69">Tree scale</text>
<text class="ts" x="758" y="69">0.01</text>
<rect x="722" y="85" width="21" height="20" rx="2" fill="#6a3eaa"/>
<rect x="722" y="110" width="21" height="20" rx="2" fill="#d23fa8"/>
<rect x="722" y="135" width="21" height="20" rx="2" fill="#ff5c60"/>
<rect x="722" y="160" width="21" height="20" rx="2" fill="#f0a232"/>
<rect x="722" y="186" width="21" height="20" rx="2" fill="#b2ef52"/>
<text class="rn" x="760" y="101">I</text>
<text class="rn" x="760" y="126">II</text>
<text class="rn" x="760" y="151">III</text>
<text class="rn" x="760" y="176">IV</text>
<text class="rn" x="760" y="202">V</text>
</g>
</svg>
